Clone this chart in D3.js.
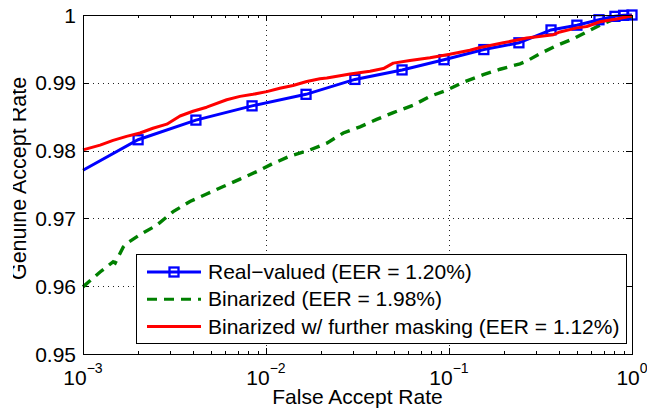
<!DOCTYPE html>
<html>
<head>
<meta charset="utf-8">
<script src="https://cdn.jsdelivr.net/npm/d3@7"></script>
<style>
  body { margin: 0; background: #fff; }
  svg text { font-family: "Liberation Sans", Arial, Helvetica, sans-serif; fill: #000; }
</style>
</head>
<body>
<div id="chart"></div>
<script>
// Real-valued curve (markers on every point after the first)
const realFAR = [0.001, 0.002, 0.00414, 0.00839, 0.01655, 0.0306, 0.0554, 0.0939, 0.155, 0.241, 0.361, 0.5, 0.66, 0.807, 0.9, 1.0];
const realGAR = [0.9771, 0.9816, 0.9845, 0.9866, 0.9883, 0.9905, 0.9919, 0.9934, 0.9949, 0.9959, 0.9978, 0.9985, 0.9993, 0.9998, 0.99995, 1.0];

// Binarized curve
const binFAR = [0.001, 0.00124, 0.00146, 0.0015, 0.00166, 0.00173, 0.00205, 0.00253, 0.00311, 0.00384, 0.00474, 0.00584, 0.00721, 0.0089, 0.01074, 0.01352, 0.01739, 0.0215, 0.02645, 0.03264, 0.04025, 0.0496, 0.0638, 0.0787, 0.0971, 0.1197, 0.154, 0.19, 0.2443, 0.2658, 0.3144, 0.3879, 0.4777, 0.5656, 0.6684, 0.7875, 0.9357, 1.0];
const binGAR = [0.9599, 0.9621, 0.9636, 0.9634, 0.9658, 0.9663, 0.9676, 0.9690, 0.9710, 0.9725, 0.9736, 0.9747, 0.9758, 0.9769, 0.9780, 0.9792, 0.9801, 0.9811, 0.9826, 0.9835, 0.9846, 0.9856, 0.9867, 0.9880, 0.9889, 0.9901, 0.9912, 0.9920, 0.9928, 0.9932, 0.9943, 0.9955, 0.9965, 0.9975, 0.9985, 0.9993, 0.9996, 0.9997];

// Binarized w/ further masking
const maskFAR = [0.001, 0.00124, 0.00146, 0.00173, 0.00205, 0.00241, 0.00287, 0.00339, 0.00399, 0.00474, 0.0061, 0.00721, 0.00849, 0.0101, 0.0119, 0.01405, 0.0167, 0.0197, 0.0215, 0.0288, 0.037, 0.0438, 0.0496, 0.0612, 0.0787, 0.101, 0.130, 0.148, 0.198, 0.266, 0.372, 0.404, 0.499, 0.566, 0.668, 0.825, 1.0];
const maskGAR = [0.9801, 0.9808, 0.9815, 0.9821, 0.9826, 0.9833, 0.9839, 0.9851, 0.9858, 0.9864, 0.9875, 0.9880, 0.9883, 0.9887, 0.9892, 0.9896, 0.9902, 0.9906, 0.9907, 0.9913, 0.9917, 0.9921, 0.9929, 0.9933, 0.9937, 0.9942, 0.9948, 0.9952, 0.9959, 0.9966, 0.9971, 0.9975, 0.9981, 0.9983, 0.9990, 0.9994, 0.9999];

const xTicks = [1e-3, 1e-2, 1e-1, 1];
const xTickExp = ["\u22123", "\u22122", "\u22121", "0"];
const yTicks = [0.95, 0.96, 0.97, 0.98, 0.99, 1];
const yTickLabels = ["0.95", "0.96", "0.97", "0.98", "0.99", "1"];

const seriesNames = [
  "Real\u2212valued (EER = 1.20%)",
  "Binarized (EER = 1.98%)",
  "Binarized w/ further masking (EER = 1.12%)"
];

const width = 647, height = 414;
const margin = {top: 15, right: 15, bottom: 60, left: 83};

const svg = d3.select("#chart").append("svg")
    .attr("width", width)
    .attr("height", height);

const x = d3.scaleLog()
    .domain([1e-3, 1])
    .range([margin.left, width - margin.right]);
const y = d3.scaleLinear()
    .domain([0.95, 1])
    .range([height - margin.bottom, margin.top]);

const x0 = x.range()[0], x1 = x.range()[1];
const y0 = y.range()[0], y1 = y.range()[1];

// grid
const grid = svg.append("g")
    .attr("stroke", "#222")
    .attr("stroke-width", 1)
    .attr("stroke-dasharray", "1,4");
grid.selectAll(".gx")
  .data(xTicks.slice(1, -1))
  .join("line")
    .attr("x1", d => Math.round(x(d)) + 0.5)
    .attr("x2", d => Math.round(x(d)) + 0.5)
    .attr("y1", y1).attr("y2", y0);
grid.selectAll(".gy")
  .data(yTicks.slice(1, -1))
  .join("line")
    .attr("y1", d => Math.round(y(d)) + 0.5)
    .attr("y2", d => Math.round(y(d)) + 0.5)
    .attr("x1", x0).attr("x2", x1);

// ticks (inside, on all four sides)
const minor = [];
for (let e = -3; e < 0; e++) for (let m = 2; m < 10; m++) minor.push(m * Math.pow(10, e));
const tickG = svg.append("g").attr("stroke", "#000").attr("stroke-width", 1);
tickG.selectAll(".mn")
  .data(minor)
  .join("path")
    .attr("d", d => {
      const px = Math.round(x(d)) + 0.5;
      return `M${px},${y0}v-3M${px},${y1}v3`;
    });
tickG.selectAll(".mj")
  .data(xTicks)
  .join("path")
    .attr("d", d => {
      const px = Math.round(x(d)) + 0.5;
      return `M${px},${y0}v-6M${px},${y1}v6`;
    });
tickG.selectAll(".yt")
  .data(yTicks)
  .join("path")
    .attr("d", d => {
      const py = Math.round(y(d)) + 0.5;
      return `M${x0},${py}h6M${x1},${py}h-6`;
    });

// curves
const line = d3.line()
    .x(d => x(d[0]))
    .y(d => y(d[1]));

const realData = d3.zip(realFAR, realGAR);
const binData = d3.zip(binFAR, binGAR);
const maskData = d3.zip(maskFAR, maskGAR);

svg.append("path")
    .datum(binData)
    .attr("fill", "none")
    .attr("stroke", "#008000")
    .attr("stroke-width", 3.4)
    .attr("stroke-dasharray", "10,7")
    .attr("d", line);

svg.append("path")
    .datum(realData)
    .attr("fill", "none")
    .attr("stroke", "#0000ff")
    .attr("stroke-width", 3)
    .attr("d", line);

svg.append("g")
  .selectAll("rect")
  .data(realData.slice(1))
  .join("rect")
    .attr("x", d => x(d[0]) - 4.5)
    .attr("y", d => y(d[1]) - 4.5)
    .attr("width", 9)
    .attr("height", 9)
    .attr("fill", "none")
    .attr("stroke", "#0000ff")
    .attr("stroke-width", 2.3);

svg.append("path")
    .datum(maskData)
    .attr("fill", "none")
    .attr("stroke", "#ff0000")
    .attr("stroke-width", 3)
    .attr("stroke-linejoin", "round")
    .attr("d", line);

// axes box
svg.append("rect")
    .attr("x", x0 + 0.5)
    .attr("y", y1 + 0.5)
    .attr("width", x1 - x0)
    .attr("height", y0 - y1)
    .attr("fill", "none")
    .attr("stroke", "#000")
    .attr("stroke-width", 1);

// tick labels
svg.append("g")
  .selectAll("text")
  .data(yTicks)
  .join("text")
    .attr("x", x0 - 7)
    .attr("y", d => y(d) + 7.5)
    .attr("text-anchor", "end")
    .attr("font-size", 21)
    .text((d, i) => yTickLabels[i]);

const xl = svg.append("g")
  .selectAll("text")
  .data(xTicks)
  .join("text")
    .attr("x", d => x(d))
    .attr("y", 385)
    .attr("text-anchor", "middle")
    .attr("font-size", 21);
xl.append("tspan").text("10");
xl.append("tspan")
    .attr("dy", -12)
    .attr("font-size", 14)
    .text((d, i) => xTickExp[i]);

// axis labels
svg.append("text")
    .attr("x", (x0 + x1) / 2)
    .attr("y", 404)
    .attr("text-anchor", "middle")
    .attr("font-size", 21)
    .text("False Accept Rate");

// the y label is cut off at the left edge in the original figure
svg.append("clipPath").attr("id", "ylabClip")
  .append("rect").attr("x", 13).attr("y", 0).attr("width", 60).attr("height", height);
svg.append("g")
    .attr("clip-path", "url(#ylabClip)")
  .append("text")
    .attr("transform", `translate(25.5,${(y0 + y1) / 2 - 6}) rotate(-90)`)
    .attr("text-anchor", "middle")
    .attr("font-size", 21.5)
    .text("Genuine Accept Rate");

// legend
const lg = svg.append("g");
lg.append("rect")
    .attr("x", 136.5).attr("y", 254.5)
    .attr("width", 490).attr("height", 89)
    .attr("fill", "#fff")
    .attr("stroke", "#000")
    .attr("stroke-width", 1);

const legendStyles = [
  {color: "#0000ff", dash: null, marker: true},
  {color: "#008000", dash: "10,7", marker: false},
  {color: "#ff0000", dash: null, marker: false}
];
const rowY = i => 272 + i * 27.3;

const rows = lg.selectAll("g.row")
  .data(seriesNames)
  .join("g")
    .attr("class", "row");
rows.append("line")
    .attr("x1", 147).attr("x2", 201)
    .attr("y1", (d, i) => rowY(i)).attr("y2", (d, i) => rowY(i))
    .attr("stroke", (d, i) => legendStyles[i].color)
    .attr("stroke-width", 3)
    .attr("stroke-dasharray", (d, i) => legendStyles[i].dash);
rows.filter((d, i) => legendStyles[i].marker)
  .append("rect")
    .attr("x", 169.5).attr("y", (d, i) => rowY(i) - 4.5)
    .attr("width", 9).attr("height", 9)
    .attr("fill", "none")
    .attr("stroke", "#0000ff")
    .attr("stroke-width", 2.3);
rows.append("text")
    .attr("x", 208)
    .attr("y", (d, i) => rowY(i) + 7)
    .attr("font-size", 21)
    .text(d => d);
</script>
</body>
</html>
